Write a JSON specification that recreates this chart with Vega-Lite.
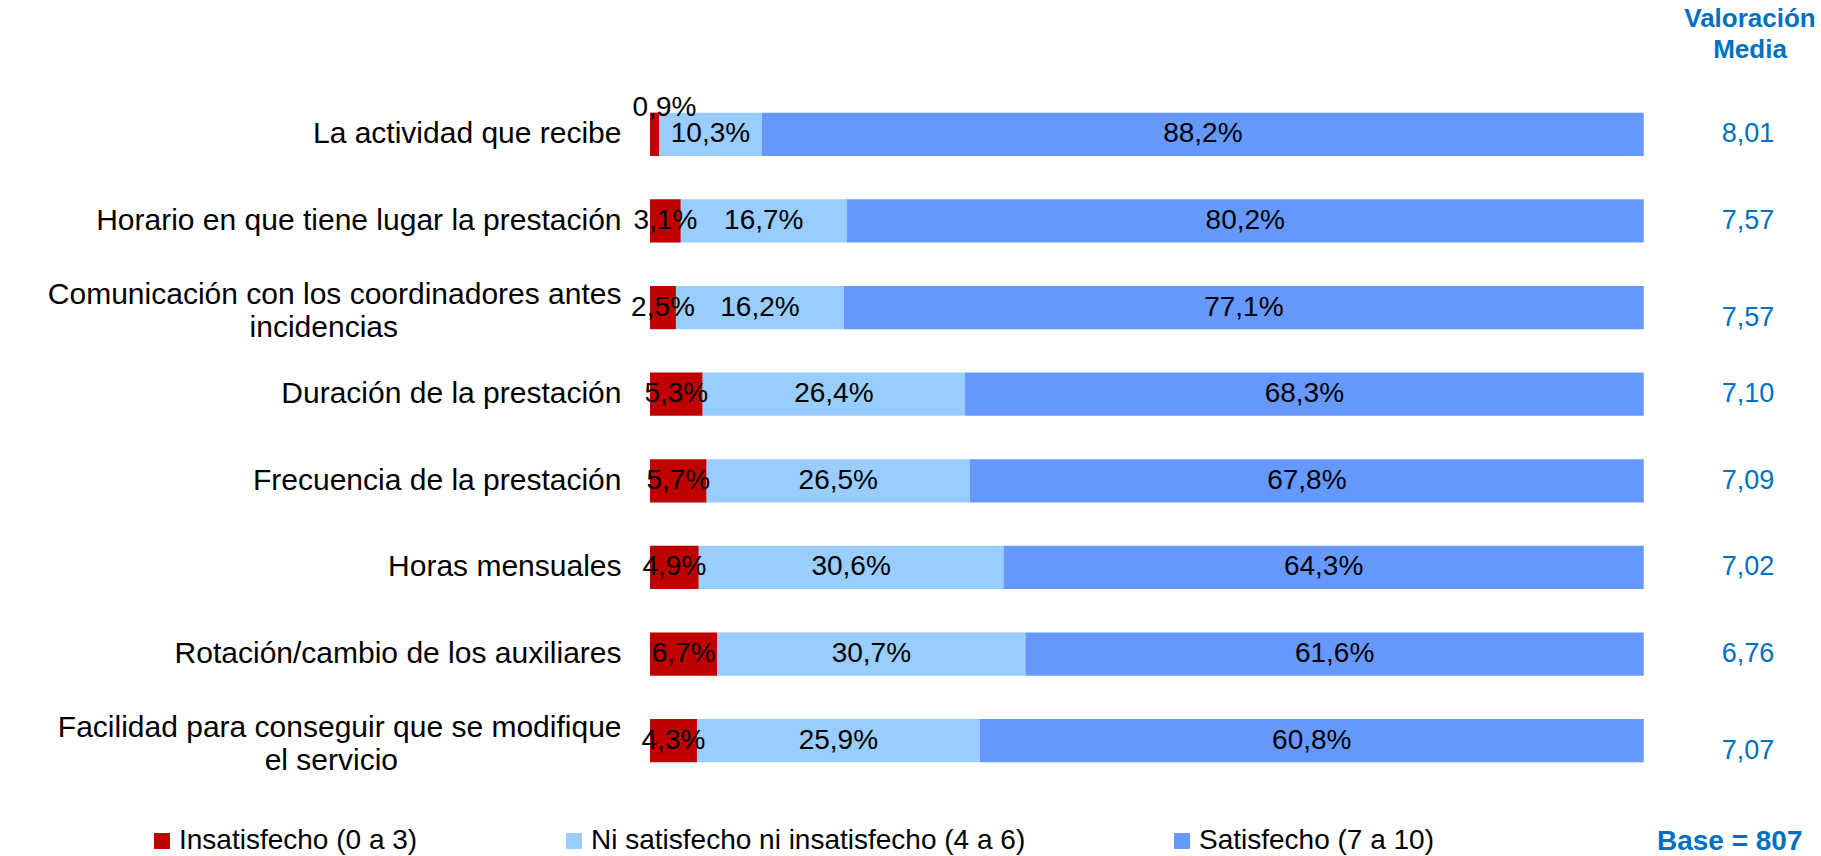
{
  "$schema": "https://vega.github.io/schema/vega-lite/v6.json",
  "width": 1113,
  "height": 693,
  "autosize": {"type": "none"},
  "padding": {"left": 650, "top": 91, "right": 58, "bottom": 72},
  "background": "white",
  "config": {
    "view": {"stroke": null},
    "font": "Liberation Sans",
    "text": {"font": "Liberation Sans"}
  },
  "title": {
    "text": ["Valoración", "Media"],
    "anchor": "end",
    "frame": "group",
    "align": "center",
    "dx": -13,
    "fontSize": 26,
    "fontWeight": "bold",
    "color": "#0070C0",
    "lineHeight": 31,
    "offset": 28,
    "font": "Liberation Sans"
  },
  "resolve": {"axis": {"x": "independent"}},
  "datasets": {
    "segments": [
      {"item": "La actividad que recibe", "group": "Insatisfecho (0 a 3)", "value": 0.9},
      {"item": "La actividad que recibe", "group": "Ni satisfecho ni insatisfecho (4 a 6)", "value": 10.3},
      {"item": "La actividad que recibe", "group": "Satisfecho (7 a 10)", "value": 88.2},
      {"item": "Horario en que tiene lugar la prestación", "group": "Insatisfecho (0 a 3)", "value": 3.1},
      {"item": "Horario en que tiene lugar la prestación", "group": "Ni satisfecho ni insatisfecho (4 a 6)", "value": 16.7},
      {"item": "Horario en que tiene lugar la prestación", "group": "Satisfecho (7 a 10)", "value": 80.2},
      {"item": "Comunicación con los coordinadores antes|incidencias", "group": "Insatisfecho (0 a 3)", "value": 2.5},
      {"item": "Comunicación con los coordinadores antes|incidencias", "group": "Ni satisfecho ni insatisfecho (4 a 6)", "value": 16.2},
      {"item": "Comunicación con los coordinadores antes|incidencias", "group": "Satisfecho (7 a 10)", "value": 77.1},
      {"item": "Duración de la prestación", "group": "Insatisfecho (0 a 3)", "value": 5.3},
      {"item": "Duración de la prestación", "group": "Ni satisfecho ni insatisfecho (4 a 6)", "value": 26.4},
      {"item": "Duración de la prestación", "group": "Satisfecho (7 a 10)", "value": 68.3},
      {"item": "Frecuencia de la prestación", "group": "Insatisfecho (0 a 3)", "value": 5.7},
      {"item": "Frecuencia de la prestación", "group": "Ni satisfecho ni insatisfecho (4 a 6)", "value": 26.5},
      {"item": "Frecuencia de la prestación", "group": "Satisfecho (7 a 10)", "value": 67.8},
      {"item": "Horas mensuales", "group": "Insatisfecho (0 a 3)", "value": 4.9},
      {"item": "Horas mensuales", "group": "Ni satisfecho ni insatisfecho (4 a 6)", "value": 30.6},
      {"item": "Horas mensuales", "group": "Satisfecho (7 a 10)", "value": 64.3},
      {"item": "Rotación/cambio de los auxiliares", "group": "Insatisfecho (0 a 3)", "value": 6.7},
      {"item": "Rotación/cambio de los auxiliares", "group": "Ni satisfecho ni insatisfecho (4 a 6)", "value": 30.7},
      {"item": "Rotación/cambio de los auxiliares", "group": "Satisfecho (7 a 10)", "value": 61.6},
      {"item": "Facilidad para conseguir que se modifique|el servicio", "group": "Insatisfecho (0 a 3)", "value": 4.3},
      {"item": "Facilidad para conseguir que se modifique|el servicio", "group": "Ni satisfecho ni insatisfecho (4 a 6)", "value": 25.9},
      {"item": "Facilidad para conseguir que se modifique|el servicio", "group": "Satisfecho (7 a 10)", "value": 60.8}
    ],
    "items": [
      {"item": "La actividad que recibe", "mean": 8.01},
      {"item": "Horario en que tiene lugar la prestación", "mean": 7.57},
      {"item": "Comunicación con los coordinadores antes|incidencias", "mean": 7.57},
      {"item": "Duración de la prestación", "mean": 7.10},
      {"item": "Frecuencia de la prestación", "mean": 7.09},
      {"item": "Horas mensuales", "mean": 7.02},
      {"item": "Rotación/cambio de los auxiliares", "mean": 6.76},
      {"item": "Facilidad para conseguir que se modifique|el servicio", "mean": 7.07}
    ]
  },
  "encoding": {
    "y": {
      "field": "item",
      "type": "nominal",
      "scale": {
        "domain": [
          "La actividad que recibe",
          "Horario en que tiene lugar la prestación",
          "Comunicación con los coordinadores antes|incidencias",
          "Duración de la prestación",
          "Frecuencia de la prestación",
          "Horas mensuales",
          "Rotación/cambio de los auxiliares",
          "Facilidad para conseguir que se modifique|el servicio"
        ],
        "paddingInner": 0.5,
        "paddingOuter": 0.25
      },
      "axis": {
        "title": null,
        "domain": false,
        "ticks": false,
        "grid": false,
        "labelFont": "Liberation Sans",
        "labelFontSize": 30,
        "labelColor": "black",
        "labelPadding": 29,
        "labelLimit": 1000,
        "labelExpr": "split(datum.label, '|')[0]",
        "labelOffset": {"condition": {"test": "indexof(datum.value, '|') >= 0", "value": -13}, "value": 0}
      }
    }
  },
  "layer": [
    {
      "data": {"name": "segments"},
      "transform": [
        {"stack": "value", "groupby": ["item"], "sort": [{"field": "group", "order": "ascending"}], "offset": "normalize", "as": ["x0", "x1"]},
        {"calculate": "(datum.x0 + datum.x1) / 2", "as": "mid"},
        {"calculate": "replace(format(datum.value, '.1f'), '.', ',') + '%'", "as": "label"}
      ],
      "resolve": {"axis": {"x": "independent"}},
      "layer": [
        {
          "mark": {"type": "bar"},
          "encoding": {
            "x": {
              "field": "x0",
              "type": "quantitative",
              "scale": {"domain": [0, 1.12], "nice": false, "zero": true},
              "axis": {
                "title": "Base = 807",
                "labels": false,
                "ticks": false,
                "domain": false,
                "grid": false,
                "titleAnchor": "end",
                "titleAlign": "right",
                "titleX": 1152,
                "titleBaseline": "top",
                "titlePadding": 43,
                "titleFont": "Liberation Sans",
                "titleFontSize": 28,
                "titleFontWeight": "bold",
                "titleColor": "#0070C0"
              }
            },
            "x2": {"field": "x1"},
            "color": {
              "field": "group",
              "type": "nominal",
              "scale": {
                "domain": ["Insatisfecho (0 a 3)", "Ni satisfecho ni insatisfecho (4 a 6)", "Satisfecho (7 a 10)"],
                "range": ["#C00000", "#99CCFF", "#6699FF"]
              },
              "legend": {
                "orient": "none",
                "legendX": -502,
                "legendY": 736,
                "direction": "horizontal",
                "title": null,
                "symbolType": "square",
                "symbolSize": 256,
                "symbolStrokeWidth": 0,
                "symbolOpacity": 1,
                "labelFont": "Liberation Sans",
                "labelFontSize": 28,
                "labelColor": "black",
                "labelOffset": 3,
                "labelLimit": 1000,
                "columnPadding": 142
              }
            }
          }
        },
        {
          "transform": [{"filter": "datum.value >= 2"}],
          "mark": {"type": "text", "fontSize": 28, "color": "black", "baseline": "middle", "align": "center"},
          "encoding": {
            "x": {"field": "mid", "type": "quantitative", "axis": null},
            "text": {"field": "label", "type": "nominal"}
          }
        },
        {
          "transform": [{"filter": "datum.value < 2"}],
          "mark": {"type": "text", "fontSize": 28, "color": "black", "baseline": "middle", "align": "center", "dy": -26, "dx": 10},
          "encoding": {
            "x": {"field": "mid", "type": "quantitative", "axis": null},
            "text": {"field": "label", "type": "nominal"}
          }
        }
      ]
    },
    {
      "data": {"name": "items"},
      "transform": [
        {"calculate": "replace(format(datum.mean, '.2f'), '.', ',')", "as": "meanLabel"},
        {"filter": "indexof(datum.item, '|') < 0"}
      ],
      "mark": {"type": "text", "fontSize": 27, "color": "#0070C0", "baseline": "middle", "align": "center"},
      "encoding": {
        "x": {"datum": 1.105, "type": "quantitative", "axis": null},
        "text": {"field": "meanLabel", "type": "nominal"}
      }
    },
    {
      "data": {"name": "items"},
      "transform": [
        {"calculate": "replace(format(datum.mean, '.2f'), '.', ',')", "as": "meanLabel"},
        {"filter": "indexof(datum.item, '|') >= 0"}
      ],
      "mark": {"type": "text", "fontSize": 27, "color": "#0070C0", "baseline": "middle", "align": "center", "dy": 10},
      "encoding": {
        "x": {"datum": 1.105, "type": "quantitative", "axis": null},
        "text": {"field": "meanLabel", "type": "nominal"}
      }
    },
    {
      "data": {"name": "items"},
      "transform": [
        {"calculate": "split(datum.item, '|')[1]", "as": "line2"},
        {"filter": "isValid(datum.line2)"}
      ],
      "mark": {"type": "text", "fontSize": 30, "color": "black", "baseline": "middle", "align": "right", "dx": -252, "dy": 20},
      "encoding": {
        "x": {"datum": 0, "type": "quantitative", "axis": null},
        "text": {"field": "line2", "type": "nominal"}
      }
    }
  ]
}
